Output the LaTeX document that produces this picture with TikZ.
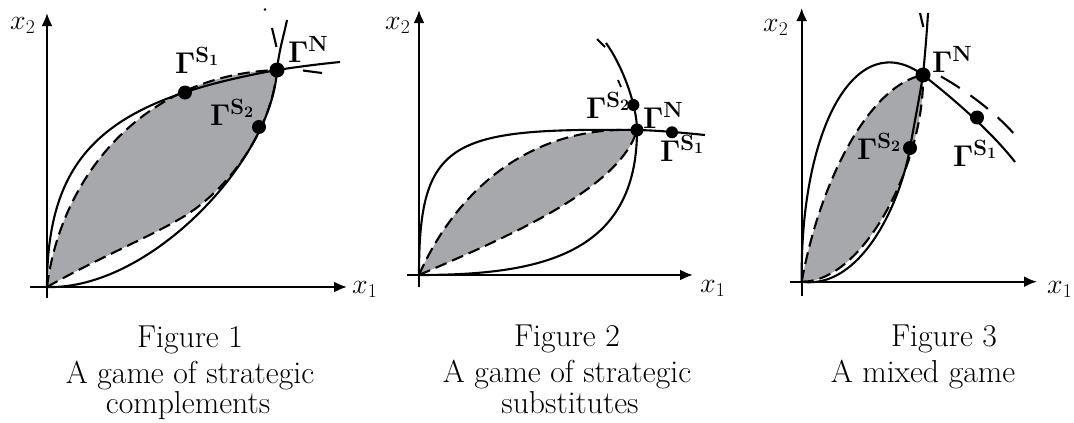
\RequirePackage{fix-cm}
\documentclass[tikz,border=0pt]{standalone}
\usepackage{amsmath}
\usetikzlibrary{arrows.meta}
\DeclareMathSizes{30}{30}{22}{16}
\definecolor{shadegray}{RGB}{166,168,171}
\tikzset{
  ax/.style={line width=2.2pt,-{Latex[length=13pt,width=11pt]}},
  sol/.style={line width=2.1pt},
  dsh/.style={line width=2.1pt,dash pattern=on 12pt off 6pt},
  bdot/.style={circle,fill=black,inner sep=0pt},
  lbl/.style={inner sep=0pt,anchor=base west,font=\fontsize{30}{32}\selectfont},
  axl/.style={inner sep=0pt,anchor=base west,font=\fontsize{28}{30}\selectfont},
  captxt/.style={inner sep=0pt,anchor=base,font=\fontsize{31.7}{36}\selectfont},
}
\begin{document}
\begin{tikzpicture}[x=1pt,y=-1pt]
\useasboundingbox (0,0) rectangle (1074,423);
% ---------------- Figure 1 ----------------
\coordinate (O1) at (47,287);
\coordinate (N1c) at (277,70);
\fill[shadegray] (O1) .. controls (60,180) and (140,75) .. (N1c)
  .. controls (270,140) and (220,195) .. (183,217) .. controls (150,237) and (100,257) .. (O1) -- cycle;
\draw[sol] (O1) .. controls (47,150) and (110,100) .. (N1c) .. controls (300,66.5) and (320,64) .. (340,62);
\draw[sol] (O1) .. controls (150,290) and (272,160) .. (N1c) .. controls (279,50) and (284,35) .. (287,20);
\draw[dsh] (O1) .. controls (60,180) and (140,75) .. (N1c);
\draw[dsh] (O1) .. controls (100,257) and (150,237) .. (183,217) .. controls (220,195) and (270,140) .. (N1c);
\draw[sol] (303,70.5) -- (322,73);
\draw[sol] (276.5,47) -- (272,28);
\fill (265,9.5) circle (1.3pt);
\draw[ax] (47,298) -- (47,13);
\draw[ax] (30,287) -- (347,287);
\node[bdot,minimum size=15pt] (N1) at (N1c) {};
\node[bdot,minimum size=14pt] (S11) at (185,92.5) {};
\node[bdot,minimum size=14pt] (S21) at (259,127) {};
\node[lbl] (lS11) at (175,73) {$\mathbf{\Gamma}^{\mathbf{S}_{\mathbf{1}}}$};
\node[lbl] (lS21) at (210,125) {$\mathbf{\Gamma}^{\mathbf{S}_{\mathbf{2}}}$};
\node[lbl] (lN1) at (288,62) {$\mathbf{\Gamma}^{\mathbf{N}}$};
\node[axl] (x21) at (10,29) {$x_2$};
\node[axl] (x11) at (352,293) {$x_1$};
\node[captxt] (c1a) at (190,347) {Figure 1};
\node[captxt] (c1b) at (190,383) {A game of strategic};
\node[captxt] (c1c) at (188,413) {complements};
% ---------------- Figure 2 ----------------
\coordinate (O2) at (419,275);
\coordinate (N2c) at (637,130);
\fill[shadegray] (O2) .. controls (445,215) and (510,125) .. (N2c)
  .. controls (620,190) and (500,240) .. (O2) -- cycle;
\draw[sol] (O2) .. controls (419,140) and (450,128) .. (N2c) .. controls (660,130.5) and (685,133) .. (705,135);
\draw[sol] (O2) .. controls (540,275) and (637,255) .. (N2c) .. controls (637,105) and (622,65) .. (606,43);
\draw[dsh] (O2) .. controls (445,215) and (510,125) .. (N2c);
\draw[dsh] (O2) .. controls (500,240) and (620,190) .. (N2c);
\draw[line width=1.8pt] (605,47) -- (597,39);
\draw[line width=1.8pt] (621,87) -- (618,80);
\draw[ax] (419,287) -- (419,10);
\draw[ax] (407,275) -- (693,275);
\node[bdot,minimum size=13pt] (N2) at (N2c) {};
\node[bdot,minimum size=12pt] (S22) at (633.4,105) {};
\node[bdot,minimum size=12pt] (S12) at (672,132.3) {};
\node[lbl] (lS22) at (586,118) {$\mathbf{\Gamma}^{\mathbf{S}_{\mathbf{2}}}$};
\node[lbl] (lN2) at (643,128) {$\mathbf{\Gamma}^{\mathbf{N}}$};
\node[lbl] (lS12) at (660,161) {$\mathbf{\Gamma}^{\mathbf{S}_{\mathbf{1}}}$};
\node[axl] (x22) at (385,29) {$x_2$};
\node[axl] (x12) at (700,292) {$x_1$};
\node[captxt] (c2a) at (567,346) {Figure 2};
\node[captxt] (c2b) at (567,382) {A game of strategic};
\node[captxt] (c2c) at (570,413) {substitutes};
% ---------------- Figure 3 ----------------
\coordinate (O3) at (801.7,281.7);
\coordinate (N3c) at (923,75);
\coordinate (S23c) at (910,148);
\fill[shadegray] (O3) .. controls (820,180) and (870,85) .. (N3c)
  .. controls (925,160) and (865,282) .. (O3) -- cycle;
\draw[sol] (O3) .. controls (800,130) and (855,25) .. (N3c)
  .. controls (950,96) and (990,130) .. (1015,162);
\draw[sol] (O3) .. controls (860,290) and (900,205) .. (S23c) .. controls (914,125) and (919,100) .. (N3c)
  .. controls (925,55) and (927,30) .. (928,13);
\draw[dsh] (O3) .. controls (820,180) and (870,85) .. (N3c);
\draw[dsh] (O3) .. controls (865,282) and (925,160) .. (N3c);
\draw[line width=2.1pt,dash pattern=on 22pt off 13pt] (941,76.5) .. controls (965,90) and (995,112) .. (1015,135);
\draw[sol] (923.3,27) -- (920,13);
\draw[ax] (801.7,296) -- (801.7,8);
\draw[ax] (790,281.7) -- (1037,281.7);
\node[bdot,minimum size=15pt] (N3) at (N3c) {};
\node[bdot,minimum size=14pt] (S13) at (977,117.5) {};
\node[bdot,minimum size=14pt] (S23) at (S23c) {};
\node[lbl] (lN3) at (932,72) {$\mathbf{\Gamma}^{\mathbf{N}}$};
\node[lbl] (lS13) at (953,166) {$\mathbf{\Gamma}^{\mathbf{S}_{\mathbf{1}}}$};
\node[lbl] (lS23) at (857,159) {$\mathbf{\Gamma}^{\mathbf{S}_{\mathbf{2}}}$};
\node[axl] (x23) at (763,31) {$x_2$};
\node[axl] (x13) at (1047,293) {$x_1$};
\node[captxt] (c3a) at (944,346) {Figure 3};
\node[captxt] (c3b) at (923,382) {A mixed game};
\end{tikzpicture}
\end{document}
